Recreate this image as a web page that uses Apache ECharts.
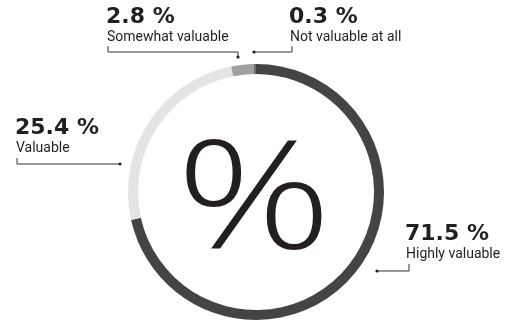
<!DOCTYPE html>
<html><head><meta charset="utf-8">
<script src="https://cdn.jsdelivr.net/npm/echarts@6/dist/echarts.min.js"></script>
<style>html,body{margin:0;padding:0;background:#fff}#c{width:515px;height:325px}</style>
</head><body><div id="c"></div>
<script>
const categories = ['Highly valuable', 'Valuable', 'Somewhat valuable', 'Not valuable at all'];
const values = [71.5, 25.4, 2.8, 0.3];
const colors = ['#444444', '#e4e4e4', '#a0a0a0', '#6e6e6e'];

const labelLayout = [
  {x: 405, y: 223, pts: [[377, 271], [409, 271], [409, 264]], dot: [377, 271]},
  {x: 15, y: 117, pts: [[17, 158], [17, 164], [120, 164]], dot: [120, 164]},
  {x: 106, y: 6, pts: [[108, 46], [108, 52], [238, 52], [238, 57]], dot: [238, 57]},
  {x: 289, y: 6, pts: [[254, 52], [292, 52], [292, 46]], dot: [254, 52]}
];

const chart = echarts.init(document.getElementById('c'), null, {renderer: 'canvas'});
const graphics = [];
graphics.push({type: 'text', x: 254, y: 206, scaleX: 1.25, scaleY: 0.98,
  style: {text: '%', x: 0, y: 0, font: '300 155px "Open Sans"', fill: '#231f20', textAlign: 'center', textVerticalAlign: 'middle'}});
categories.forEach((name, i) => {
  const L = labelLayout[i];
  graphics.push({type: 'text', style: {text: values[i].toFixed(1) + ' %', x: L.x, y: L.y, font: 'bold 22px "DejaVu Sans"', fill: '#231f20'}});
  graphics.push({type: 'text', style: {text: name, x: L.x + 1, y: L.y + 24, font: '400 14px Roboto', fill: '#231f20'}});
  graphics.push({type: 'polyline', shape: {points: L.pts}, style: {stroke: '#333', lineWidth: 1, fill: null}});
  graphics.push({type: 'circle', shape: {cx: L.dot[0], cy: L.dot[1], r: 1.6}, style: {fill: '#222'}});
});

chart.setOption({
  animation: false,
  color: colors,
  series: [{
    type: 'pie',
    center: [256, 192],
    radius: [118, 128],
    startAngle: 90,
    clockwise: true,
    label: {show: false},
    labelLine: {show: false},
    itemStyle: {borderWidth: 0},
    emphasis: {disabled: true},
    data: categories.map((n, i) => ({name: n, value: values[i]}))
  }],
  graphic: graphics
});
</script></body></html>
